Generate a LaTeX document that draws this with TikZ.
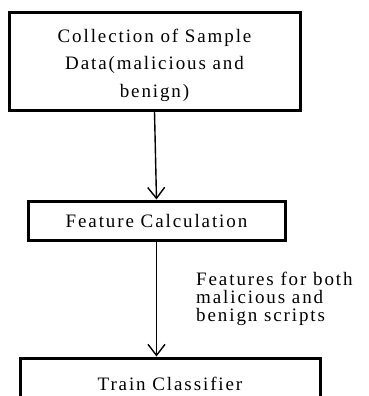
\documentclass[tikz,border=0pt]{standalone}
\usepackage{fontspec}
\setmainfont{Liberation Serif}[LetterSpace=10]
\usetikzlibrary{arrows.meta}
\begin{document}
\begin{tikzpicture}[x=1pt,y=-1pt,
  box/.style={draw, line width=3pt, inner sep=0pt, align=center, font=\fontsize{19}{27.5}\selectfont},
  conn/.style={line width=1.4pt, -{Straight Barb[length=11pt,width=17pt]}},
  lbl/.style={inner sep=0pt, align=left, anchor=north west, font=\fontsize{19}{17.8}\selectfont}]
\useasboundingbox (0,0) rectangle (368,396);
\clip (0,0) rectangle (368,396);
\fill[white] (0,0) rectangle (368,396);
\node[box, minimum width=291pt, minimum height=97pt] (collect) at (154.5,61.5) {\rule{0pt}{20.5pt}Collection of Sample\\Data(malicious and\\benign)};
\node[box, minimum width=257pt, minimum height=39pt] (feature) at (156.5,220.5) {Feature Calculation};
\node[box, minimum width=300pt, minimum height=52pt] (train) at (170,384) {Train Classifier};
\draw[conn] (collect.south) -- (feature.north);
\draw[conn] (feature.south) -- (feature.south |- train.north);
\node[lbl] (features) at (196,272) {Features for both\\malicious and\\benign scripts};
\end{tikzpicture}
\end{document}
